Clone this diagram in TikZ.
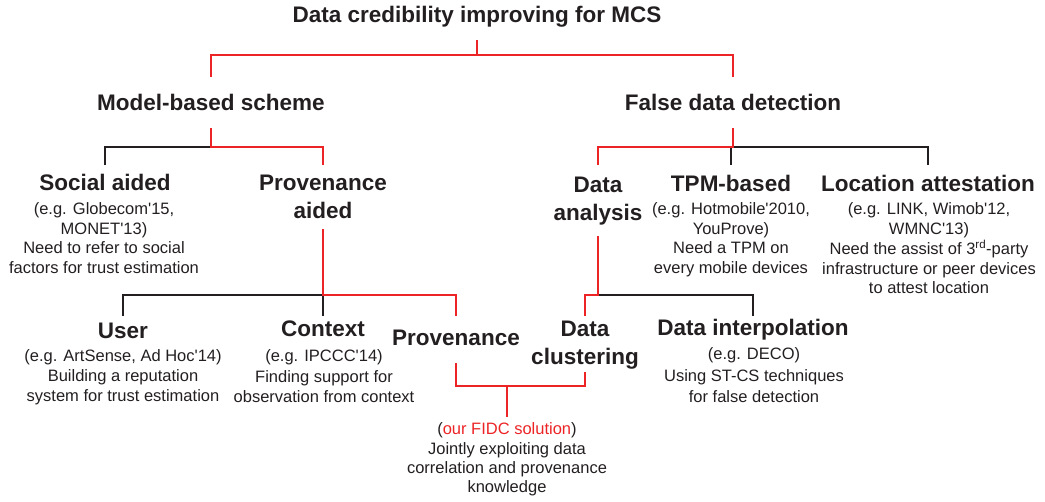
\documentclass[tikz,border=0pt]{standalone}
\usepackage{fontspec}
\setmainfont{Liberation Sans}[Ligatures=TeXOff]
\usepackage{xcolor}
\definecolor{lred}{RGB}{236,36,38}
\definecolor{lblk}{RGB}{35,31,32}
\newcommand{\hd}[1]{\begin{tabular}[t]{@{}c@{}}#1\end{tabular}}
\tikzset{
  head/.style={anchor=base,inner sep=0pt,text=lblk,font=\bfseries\fontsize{22.5}{28}\selectfont},
  desc/.style={anchor=base,inner sep=0pt,text=lblk,font=\fontsize{16.5}{#1}\selectfont},
  desc/.default={19.4},
  R/.style={draw=lred,line width=2.2pt},
  K/.style={draw=lblk,line width=2.2pt}
}
\begin{document}
\begin{tikzpicture}[x=1pt,y=-1pt]
\useasboundingbox (0,0) rectangle (1045,502);
% level 0
\node[head] (title) at (477,23) {Data credibility improving for MCS};
% level 1
\node[head] (model) at (211,111) {Model-based scheme};
\node[head] (false) at (733,111) {False data detection};
% level 2
\node[head] (social) at (105,191) {Social aided};
\node[desc] (socialD) at (104,215) {\hd{(e.g. Globecom'15,\\ MONET'13)\\ Need to refer to social\\ factors for trust estimation}};
\node[head] (provA) at (323,191) {\hd{Provenance\\ aided}};
\node[head] (anal) at (598,193) {\hd{Data\\ analysis}};
\node[head] (tpm) at (731,192) {TPM-based};
\node[desc] (tpmD) at (731,215) {\hd{(e.g. Hotmobile'2010,\\ YouProve)\\ Need a TPM on\\ every mobile devices}};
\node[head] (loc) at (928,192) {Location attestation};
\node[desc={19.3}] (locD) at (929,215) {\hd{(e.g. LINK, Wimob'12,\\ WMNC'13)\\ Need the assist of 3\textsuperscript{rd}-party\\ infrastructure or peer devices\\ to attest location}};
% level 3
\node[head] (user) at (123,339) {User};
\node[desc={20}] (userD) at (123,362) {\hd{(e.g. ArtSense, Ad Hoc'14)\\ Building a reputation\\ system for trust estimation}};
\node[head] (ctx) at (323,337) {Context};
\node[desc={20.5}] (ctxD) at (324,362) {\hd{(e.g. IPCCC'14)\\ Finding support for\\ observation from context}};
\node[head] (provB) at (456,346) {Provenance};
\node[head] (clust) at (585,337) {\hd{Data\\ clustering}};
\node[head] (interp) at (753,336) {Data interpolation};
\node[desc={21.5}] (interpD) at (754,360) {\hd{(e.g. DECO)\\ Using ST-CS techniques\\ for false detection}};
\node[desc={19.3}] (fidc) at (507,435) {\hd{(\textcolor{lred}{our FIDC solution})\\ Jointly exploiting data\\ correlation and provenance\\ knowledge}};
% connectors
\draw[R] ([yshift=-17pt]title.base) -- ([yshift=-32pt]title.base) -| ([yshift=34pt]model.base);
\draw[R] ([yshift=-32pt]title.base) -| ([yshift=34pt]false.base);
\draw[K] ([yshift=-36pt]model.base) -| ([yshift=26pt]social.base);
\draw[R] ([yshift=-17pt]model.base) -- ([yshift=-36pt]model.base) -| ([yshift=26pt]provA.base);
\draw[K] ([yshift=-36pt]false.base) -| ([yshift=27pt]tpm.base);
\draw[K] ([yshift=-36pt]false.base) -| ([yshift=27pt]loc.base);
\draw[R] ([yshift=-17pt]false.base) -- ([yshift=-36pt]false.base) -| ([yshift=28pt]anal.base);
\draw[K] ([yshift=-104pt]provA.base) -| ([yshift=23pt]user.base);
\draw[K] ([yshift=-104pt]provA.base) -- ([yshift=21pt]ctx.base);
\draw[R] ([yshift=-38pt]provA.base) -- ([yshift=-104pt]provA.base) -| ([yshift=30pt]provB.base);
\draw[K] ([yshift=-102pt]anal.base) -| ([yshift=20pt]interp.base);
\draw[R] ([yshift=-43pt]anal.base) -- ([yshift=-102pt]anal.base) -| ([yshift=21pt]clust.base);
\draw[R] ([yshift=-17pt]provB.base) -- ([yshift=-40pt]provB.base) -| ([yshift=-35pt]clust.base);
\draw[R] ([yshift=18pt]fidc.base) |- ([yshift=-40pt]provB.base);
\end{tikzpicture}
\end{document}
